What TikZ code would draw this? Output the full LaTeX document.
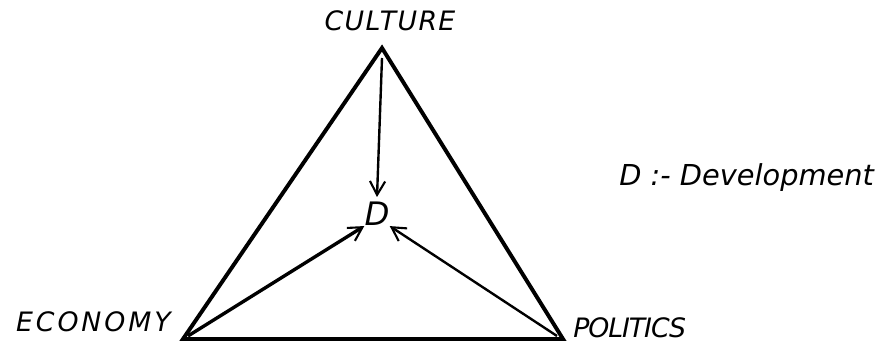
\documentclass[tikz,border=0pt]{standalone}
\usepackage{fontspec}
\usepackage{tikz}
\usetikzlibrary{arrows.meta,positioning}
\newfontfamily\handfont{DejaVu Sans}
\tikzset{
  side/.style={line width=2.8pt, line join=miter},
  pull/.style={-{Straight Barb[length=3.4mm,width=3.8mm,line width=1.5pt]}, line width=2.4pt},
  thinpull/.style={pull, line width=1.7pt},
  corner/.style={font=\handfont\itshape\fontsize{19}{21}\selectfont, inner sep=0pt},
  centre/.style={font=\handfont\itshape\fontsize{23}{25}\selectfont, inner sep=0pt},
  legend/.style={font=\handfont\itshape\fontsize{20.5}{24}\selectfont, inner sep=0pt}
}
\begin{document}
\begin{tikzpicture}[x=0.025cm, y=-0.025cm]
  \useasboundingbox (0,0) rectangle (884,348);
  % corners of the triangle
  \coordinate (top) at (382,48);
  \coordinate (left) at (183,339);
  \coordinate (right) at (563,339);
  \draw[side] (top) -- (left) -- (right) -- cycle;
  % labels
  \node[corner] (culture) at (390,21) {\addfontfeature{LetterSpace=5}CULTURE};
  \node[corner, anchor=east] (economy) at (171,322) {\addfontfeature{LetterSpace=11}ECONOMY};
  \node[corner, anchor=west] (politics) at (573,328) {\addfontfeature{LetterSpace=-4}POLITICS};
  \node[centre] (dev) at (377,214) {D};
  \node[legend, anchor=west] (key) at (619,178) {D :- Development};
  % arrows into D
  \coordinate (topfoot) at (382,58);
  \coordinate (leftfoot) at (188,336);
  \coordinate (rightfoot) at (557,336);
  \draw[thinpull] (topfoot) -- (377,197) coordinate (toptip);
  \draw[pull] (leftfoot) -- (dev.south west);
  \draw[thinpull] (rightfoot) -- (dev.south east);
\end{tikzpicture}
\end{document}
